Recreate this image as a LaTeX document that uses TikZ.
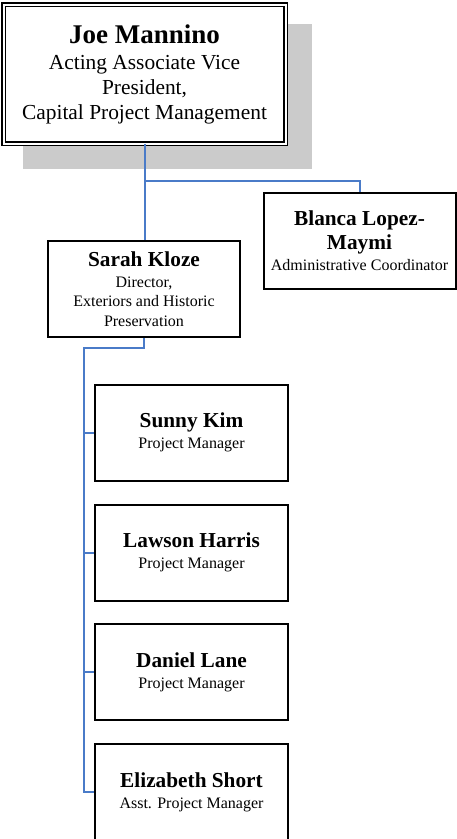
\documentclass[tikz,border=0pt]{standalone}
\usepackage{fontspec}
\setmainfont{Liberation Serif}
\begin{document}
\begin{tikzpicture}[x=1pt,y=-1pt,
  box/.style={draw=black,line width=2pt,fill=white,inner sep=0pt,align=center,
    minimum width=#1,font=\fontsize{16}{19.5}\selectfont},
  box/.default=193pt,
  link/.style={draw=linkblue,line width=2pt}]
\definecolor{linkblue}{HTML}{4A7BC8}
\definecolor{shadowgray}{HTML}{CBCBCB}
\newcommand{\nmA}[1]{{\fontsize{21.3}{24}\selectfont\bfseries #1}}
\useasboundingbox (0,0) rectangle (457,839);
% shadow
\fill[shadowgray] (23,24) rectangle (312,169);
% top box
\node[draw=black,line width=1.6pt,double=white,double distance=2pt,fill=white,
  minimum width=282pt,minimum height=139pt,inner sep=0pt,align=center,
  font=\fontsize{21.4}{25}\selectfont] (joe) at (144.5,74)
  {{\fontsize{27}{27}\selectfont\bfseries Joe Mannino}\\[1pt]Acting Associate Vice\\President,\\Capital Project Management};
% second level
\node[box=192pt,minimum height=96pt] (sarah) at (144,289)
  {\nmA{Sarah Kloze}\\[1pt]Director,\\Exteriors and Historic\\Preservation};
\node[box=192pt,minimum height=96pt] (blanca) at (359.5,241)
  {\nmA{Blanca Lopez-}\\[4.5pt]\nmA{Maymi}\\[1.5pt]Administrative Coordinator};
% project managers
\node[box,minimum height=96pt] (sunny) at (191.5,432.5)
  {\nmA{Sunny Kim}\\[1.5pt]Project Manager};
\node[box,minimum height=96pt] (lawson) at (191.5,552.5)
  {\nmA{Lawson Harris}\\[1.5pt]Project Manager};
\node[box,minimum height=96pt] (daniel) at (191.5,672)
  {\nmA{Daniel Lane}\\[1.5pt]Project Manager};
\node[box,minimum height=96pt] (eliz) at (191.5,792)
  {\nmA{Elizabeth Short}\\[1.5pt]Asst. Project Manager};
% connectors
\coordinate (j1) at (144.5,181);
\coordinate (s1) at (144,348);
\coordinate (s2) at (84,348);
\coordinate (s3) at (84,792);
\draw[link] (joe.south) -- (j1 |- sarah.north);
\draw[link] (j1) -| (blanca.north);
\draw[link] (sarah.south) -- (s1) -- (s2) -- (s3) -- (eliz.west);
\draw[link] (s2 |- sunny.west) -- (sunny.west);
\draw[link] (s2 |- lawson.west) -- (lawson.west);
\draw[link] (s2 |- daniel.west) -- (daniel.west);
\end{tikzpicture}
\end{document}
